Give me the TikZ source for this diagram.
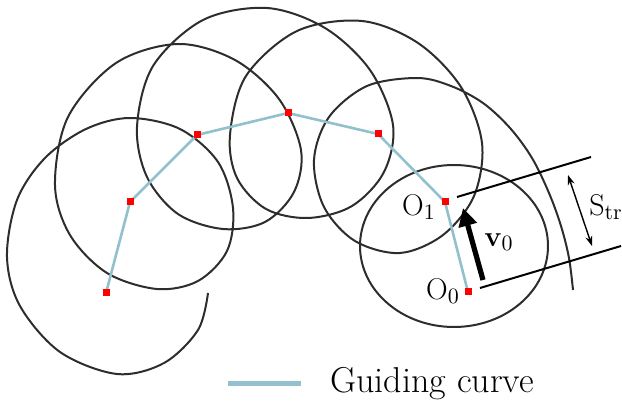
\documentclass[tikz,border=0pt]{standalone}
\usepackage{amsmath}
\usetikzlibrary{arrows.meta}

\definecolor{guideblue}{RGB}{146,192,204}
\definecolor{ringgray}{RGB}{45,45,45}

\tikzset{
  ring/.style={draw=ringgray, line width=1pt},
  guide/.style={draw=guideblue, line width=1.3pt},
  waypt/.style={inner sep=0pt, minimum size=3.4pt},
  tube/.style={draw=black, line width=1pt},
  lbl/.style={font=\fontsize{15}{17}\selectfont},
}

\begin{document}
\begin{tikzpicture}[x=0.5pt,y=-0.5pt]
\useasboundingbox (0,0) rectangle (622,401);

% looping trace along the curve
\draw[ring] plot[smooth, tension=0.55] coordinates {
  (573,290) (569,258) (561,226) (549,193) (532,158) (510,128) (483,103)
  (451,86) (417,78) (367,86) (329,117) (314,160) (324,207) (355,241)
  (400,253) (443,235) (474,196) (482,143) (461,87) (418,43) (362,21)
  (297,31) (246,76) (230,135) (237,178) (266,209) (308,218) (352,206)
  (384,172) (393,125) (370,70) (325,28) (267,8) (203,20) (153,66)
  (137,127) (147,177) (178,214) (223,229) (265,222) (294,192) (301,150)
  (279,99) (235,60) (178,44) (116,63) (68,117) (55,185) (70,235)
  (107,273) (157,289) (198,281) (227,251) (233,208) (218,162) (180,129)
  (130,118) (86,129) (45,158) (17,200) (7,257) (20,306) (60,352) (117,374)
  (164,363) (198,330) (208,293)};
% start circle
\draw[ring] (454,246) ellipse [x radius=94, y radius=81];

% guiding curve points
\node[waypt] (p6) at (106,293) {};
\node[waypt] (p5) at (130,202) {};
\node[waypt] (p4) at (197,135) {};
\node[waypt] (p3) at (288,113) {};
\node[waypt] (p2) at (378,134) {};
\node[waypt] (o1) at (445,202) {};
\node[waypt] (o0) at (468,292) {};

\draw[guide] (p6.center) -- (p5.center) -- (p4.center) -- (p3.center) -- (p2.center) -- (o1.center) -- (o0.center);
\foreach \p in {p6,p5,p4,p3,p2,o1,o0}
  \fill[red] (\p.center) +(-3.5,-3.5) rectangle +(3.5,3.5);

% tube
\coordinate (ua) at (457,197);
\coordinate (ub) at (591,157);
\coordinate (la) at (480,288);
\coordinate (lb) at (621,246);
\draw[tube] (ua) -- (ub);
\draw[tube] (la) -- (lb);

\coordinate (sa) at (568,175);
\coordinate (sb) at (592,246);
\draw[line width=0.7pt, {Stealth[length=5pt,width=3.5pt]}-{Stealth[length=5pt,width=3.5pt]}] (sa) -- (sb);

\coordinate (vtail) at (483,280);
\coordinate (vtip) at (463,208);
\draw[line width=2.6pt, -{Triangle[length=9pt,width=9pt]}] (vtail) -- (vtip);

% labels
\node[lbl] (lo1) at (419,207) {O$_1$};
\node[lbl] (lo0) at (443,291) {O$_0$};
\node[lbl] (lv0) at (499,242) {$\mathbf{v}_0$};
\node[lbl] (lstr) at (606,207) {S$_{\mathrm{tr}}$};

% legend
\coordinate (ka) at (228,383);
\coordinate (kb) at (301,383);
\draw[draw=guideblue, line width=2.5pt] (ka) -- (kb);
\node[anchor=base west, inner sep=0pt, font=\fontsize{18}{21}\selectfont] (key) at (330,392) {Guiding curve};

\end{tikzpicture}
\end{document}
